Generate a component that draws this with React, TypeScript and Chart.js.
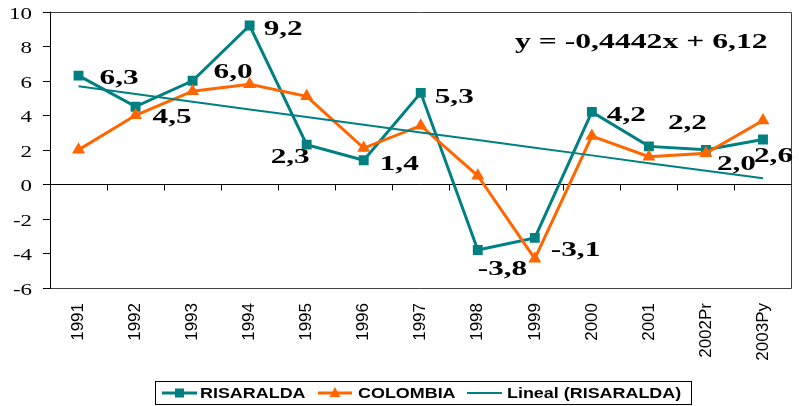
import React, { useEffect, useRef } from "react";
import { Chart, registerables } from "chart.js";

Chart.register(...registerables);

const categories = ["1991", "1992", "1993", "1994", "1995", "1996", "1997", "1998", "1999", "2000", "2001", "2002Pr", "2003Py"];
const risaralda = [6.3, 4.5, 6.0, 9.2, 2.3, 1.4, 5.3, -3.8, -3.1, 4.2, 2.2, 2.0, 2.6];
const colombia = [2.0, 4.0, 5.4, 5.8, 5.1, 2.1, 3.4, 0.5, -4.3, 2.8, 1.6, 1.8, 3.7];
const trendRisaralda = [5.68, 5.23, 4.79, 4.34, 3.9, 3.46, 3.01, 2.57, 2.12, 1.68, 1.23, 0.79, 0.35];
const yTicks = [-6, -4, -2, 0, 2, 4, 6, 8, 10];
const equationText = "y = -0,4442x + 6,12";
const legendLabels = ["RISARALDA", "COLOMBIA", "Lineal (RISARALDA)"];
// label placement offsets (dx to left edge, dy to baseline) relative to each RISARALDA point
const labelOffsets = [
  [21, 8], [17, 16], [21, -3], [14, 9], [-36, 18], [16, 10], [14, 10],
  [0, 25], [16, 18], [15, 9], [19, -17], [11, 20], [-9, 23],
];

const TEAL = "#008080";
const ORANGE = "#FF6600";
const SERIF = "'Liberation Serif', 'Times New Roman', serif";
const SANS = "'Liberation Sans', Arial, sans-serif";

function stretchText(ctx: CanvasRenderingContext2D, text: string, x: number, y: number, sx: number, align: CanvasTextAlign) {
  ctx.save();
  ctx.translate(x, y);
  ctx.scale(sx, 1);
  ctx.textAlign = align;
  ctx.textBaseline = "alphabetic";
  ctx.fillText(text, 0, 0);
  ctx.restore();
}

const decorPlugin = {
  id: "decor",
  beforeDatasetsDraw(chart: any) {
    const { ctx, chartArea, scales } = chart;
    const { left, right, top, bottom } = chartArea;
    const x = scales.x;
    const y = scales.y;
    ctx.save();
    // plot border
    ctx.strokeStyle = "#404040";
    ctx.lineWidth = 1;
    ctx.beginPath();
    ctx.moveTo(left, Math.round(top) + 0.5);
    ctx.lineTo(Math.round(right) - 0.5, Math.round(top) + 0.5);
    ctx.lineTo(Math.round(right) - 0.5, Math.round(bottom) + 0.5);
    ctx.lineTo(left, Math.round(bottom) + 0.5);
    ctx.stroke();
    // y axis
    ctx.strokeStyle = "#000";
    ctx.beginPath();
    ctx.moveTo(left + 0.5, top);
    ctx.lineTo(left + 0.5, bottom + 1);
    ctx.stroke();
    // y ticks and labels
    ctx.fillStyle = "#000";
    ctx.font = `17px ${SERIF}`;
    yTicks.forEach((v) => {
      const py = Math.round(y.getPixelForValue(v)) + 0.5;
      ctx.beginPath();
      ctx.moveTo(left - 7, py);
      ctx.lineTo(left, py);
      ctx.stroke();
      stretchText(ctx, String(v), left - 18, py + 6.5, 1.35, "right");
    });
    // zero line with category tick marks
    const y0 = Math.round(y.getPixelForValue(0)) + 0.5;
    ctx.beginPath();
    ctx.moveTo(left, y0);
    ctx.lineTo(right, y0);
    ctx.stroke();
    for (let k = 1; k < categories.length; k++) {
      const xb = Math.round((x.getPixelForValue(k - 1) + x.getPixelForValue(k)) / 2) + 0.5;
      ctx.beginPath();
      ctx.moveTo(xb, y0);
      ctx.lineTo(xb, y0 + 6);
      ctx.stroke();
    }
    ctx.restore();
  },
  afterDatasetsDraw(chart: any) {
    const { ctx, scales } = chart;
    const x = scales.x;
    const y = scales.y;
    ctx.save();
    ctx.fillStyle = "#000";
    ctx.font = `bold 22px ${SERIF}`;
    risaralda.forEach((v, i) => {
      const px = x.getPixelForValue(i);
      const py = y.getPixelForValue(v);
      const [dx, dy] = labelOffsets[i];
      stretchText(ctx, v.toFixed(1).replace(".", ","), px + dx, py + dy, 1.42, "left");
    });
    stretchText(ctx, equationText, 515, 48, 1.44, "left");
    ctx.restore();
  },
  afterDraw(chart: any) {
    const { ctx } = chart;
    ctx.save();
    ctx.strokeStyle = "#000";
    ctx.lineWidth = 1;
    ctx.strokeRect(155.5, 381.5, 536, 23);
    const ly = 393;
    const items = [
      { x1: 162, x2: 197, tx: 200, color: TEAL, lw: 3, marker: "rect" },
      { x1: 318, x2: 352, tx: 358, color: ORANGE, lw: 3, marker: "tri" },
      { x1: 467, x2: 502, tx: 507, color: TEAL, lw: 2, marker: "" },
    ];
    items.forEach((it, i) => {
      ctx.strokeStyle = it.color;
      ctx.fillStyle = it.color;
      ctx.lineWidth = it.lw;
      ctx.beginPath();
      ctx.moveTo(it.x1, ly);
      ctx.lineTo(it.x2, ly);
      ctx.stroke();
      const cx = (it.x1 + it.x2) / 2;
      if (it.marker === "rect") {
        ctx.fillRect(cx - 4.5, ly - 4.5, 9, 9);
      } else if (it.marker === "tri") {
        ctx.beginPath();
        ctx.moveTo(cx, ly - 6);
        ctx.lineTo(cx + 5.5, ly + 4);
        ctx.lineTo(cx - 5.5, ly + 4);
        ctx.closePath();
        ctx.fill();
      }
      ctx.fillStyle = "#000";
      ctx.font = `bold 14px ${SANS}`;
      stretchText(ctx, legendLabels[i], it.tx, 398, 1.28, "left");
    });
    ctx.restore();
  },
};

export default function App() {
  const canvasRef = useRef<HTMLCanvasElement | null>(null);

  useEffect(() => {
    const canvas = canvasRef.current;
    if (!canvas) return;
    const chart = new Chart(canvas, {
      type: "line",
      data: {
        labels: categories,
        datasets: [
          {
            label: legendLabels[0],
            data: risaralda,
            borderColor: TEAL,
            backgroundColor: TEAL,
            borderWidth: 3,
            pointStyle: "rect",
            pointRadius: 7,
            pointBorderWidth: 0,
            tension: 0,
            order: 2,
          },
          {
            label: legendLabels[1],
            data: colombia,
            borderColor: ORANGE,
            backgroundColor: ORANGE,
            borderWidth: 3,
            pointStyle: "triangle",
            pointRadius: 7.5,
            pointBorderWidth: 0,
            tension: 0,
            order: 1,
          },
          {
            label: legendLabels[2],
            data: trendRisaralda,
            borderColor: TEAL,
            backgroundColor: TEAL,
            borderWidth: 2,
            pointRadius: 0,
            tension: 0,
            order: 0,
          },
        ],
      },
      options: {
        responsive: false,
        animation: false,
        events: [],
        layout: { padding: { top: 11.7, right: 1, left: 50, bottom: 0 } },
        plugins: {
          legend: { display: false },
          tooltip: { enabled: false },
        },
        scales: {
          x: {
            offset: true,
            grid: { display: false, drawTicks: false },
            border: { display: false },
            ticks: {
              minRotation: 90,
              maxRotation: 90,
              autoSkip: false,
              padding: 15,
              color: "#000",
              font: { family: SANS, size: 17 },
            },
            afterFit: (s: any) => {
              s.height = 118;
            },
          },
          y: {
            display: false,
            min: -6,
            max: 10,
          },
        },
      },
      plugins: [decorPlugin],
    });
    return () => chart.destroy();
  }, []);

  return (
    <div style={{ position: "absolute", left: 0, top: 0, width: 799, height: 406, background: "#fff" }}>
      <canvas ref={canvasRef} width={799} height={406} style={{ display: "block", width: 799, height: 406 }} />
    </div>
  );
}
